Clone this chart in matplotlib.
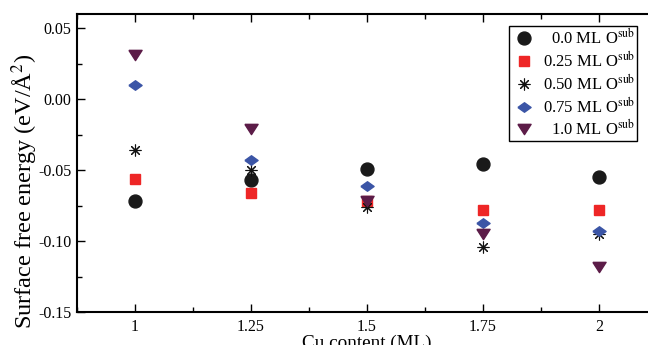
import matplotlib
matplotlib.use("Agg")
import matplotlib.pyplot as plt
from matplotlib.ticker import MultipleLocator, FixedLocator

plt.rcParams['font.family'] = ['Liberation Serif', 'DejaVu Serif']
plt.rcParams['mathtext.fontset'] = 'stix'

# Cu content (ML)
cu = [1.0, 1.25, 1.5, 1.75, 2.0]

# surface free energy (eV/A^2) per subsurface O coverage
o_00 = [-0.072, -0.057, -0.049, -0.046, -0.055]
o_025 = [-0.056, -0.066, -0.072, -0.078, -0.078]
o_050 = [-0.036, -0.050, -0.076, -0.104, -0.095]
o_075 = [0.010, -0.043, -0.061, -0.087, -0.093]
o_100 = [0.031, -0.021, -0.072, -0.095, -0.118]

labels = ["0.0 ML O$^{\\rm sub}$", "0.25 ML O$^{\\rm sub}$", "0.50 ML O$^{\\rm sub}$",
          "0.75 ML O$^{\\rm sub}$", "1.0 ML O$^{\\rm sub}$"]
xtick_labels = ["1", "1.25", "1.5", "1.75", "2"]

# the original figure is slightly squashed vertically
diamond = [(-1, 0), (0, 0.72), (1, 0), (0, -0.72), (-1, 0)]
tri_down = [(-1, 0.78), (1, 0.78), (0, -0.78), (-1, 0.78)]

fig = plt.figure(figsize=(6.48, 3.45), dpi=100)
ax = fig.add_axes([77 / 648, 33 / 345, 580 / 648, 298 / 345])

ax.plot(cu, o_00, 'o', color='#1a1a1a', markersize=9.3, label=labels[0])
ax.plot(cu, o_025, 's', color='#ee2626', markersize=7.7, label=labels[1])
ax.plot(cu, o_050, marker=(8, 2, 0), ls='none', color='#111111', markersize=8.5,
        markeredgewidth=0.8, label=labels[2])
ax.plot(cu, o_075, marker=diamond, ls='none', color='#3b55a6', markersize=9.5, label=labels[3])
ax.plot(cu, o_100, marker=tri_down, ls='none', color='#5c1c48', markersize=9.5, label=labels[4])

ax.set_xlim(0.875, 2.125)
ax.set_ylim(-0.15, 0.06)
ax.xaxis.set_major_locator(FixedLocator(cu))
ax.set_xticklabels(xtick_labels)
ax.xaxis.set_minor_locator(MultipleLocator(0.125))
ax.yaxis.set_minor_locator(MultipleLocator(0.025))
ax.set_yticks([-0.15, -0.10, -0.05, 0.0, 0.05])
ax.set_yticklabels(["-0.15", "-0.10", "-0.05", "0.00", "0.05"])

ax.tick_params(which='both', direction='in', top=True, right=True, labelsize=11.5, width=1)
ax.tick_params(which='major', length=6)
ax.tick_params(which='minor', length=3.5)
ax.tick_params(axis='x', pad=5)
ax.tick_params(axis='y', pad=4)
for s in ax.spines.values():
    s.set_linewidth(1.5)

ax.set_xlabel("Cu content (ML)", fontsize=13.8, labelpad=0)
fig.text(25 / 648, 1 - 191 / 345, "Surface free energy (eV/Å$^2$)", fontsize=17.5,
         rotation=90, ha='center', va='center')

leg = ax.legend(loc='upper right', bbox_to_anchor=(0.9655, 0.960), borderaxespad=0,
                fontsize=12, fancybox=False, edgecolor='black', framealpha=1,
                handletextpad=0.34, labelspacing=0.18, borderpad=0.12, handlelength=1.55)
leg.get_frame().set_linewidth(1.0)

# right-align legend texts like the original
fig.canvas.draw()
r = fig.canvas.get_renderer()
widths = [t.get_window_extent(r).width for t in leg.get_texts()]
wmax = max(widths)
for t, w in zip(leg.get_texts(), widths):
    t.set_position((wmax - w, 0))

fig.savefig("out.png", dpi=100)
